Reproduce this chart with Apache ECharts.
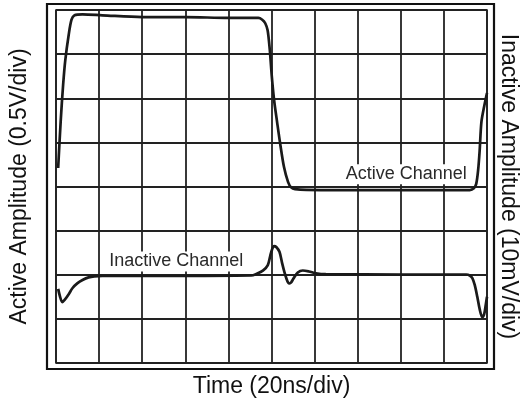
<!DOCTYPE html>
<html>
<head>
<meta charset="utf-8">
<script src="https://cdn.jsdelivr.net/npm/echarts@6/dist/echarts.min.js"></script>
<style>
html,body{margin:0;padding:0;background:#fff;}
#chart{width:528px;height:408px;}
</style>
</head>
<body>
<div id="chart"></div>
<script>
// Time axis: 20 ns/div, 10 divisions
const timeMin = 0, timeMax = 200, timeStep = 20;
// Active channel: 0.5 V/div (volts)
const activeMin = -2, activeMax = 2, activeStep = 0.5;
// Inactive channel: 10 mV/div (millivolts)
const inactiveMin = -20, inactiveMax = 60, inactiveStep = 10;

const activeTime = [1.0, 2.2, 3.3, 4.3, 5.9, 7.2, 8.6, 12.3, 21.5, 40.0, 60.2, 80.1, 93.9, 95.7, 97.1, 98.2, 99.2, 100.1, 101.2, 102.6, 104.0, 105.8, 107.7, 109.1, 110.9, 122.9, 150.0, 180.0, 192.0, 193.9, 195.0, 195.9, 196.6, 197.4, 198.7, 200.0];
const activeVolts = [0.21, 0.75, 1.15, 1.43, 1.72, 1.89, 1.94, 1.95, 1.94, 1.92, 1.92, 1.91, 1.91, 1.89, 1.85, 1.77, 1.55, 1.26, 0.98, 0.73, 0.49, 0.22, 0.05, -0.01, -0.03, -0.04, -0.04, -0.04, -0.04, -0.02, 0.03, 0.19, 0.41, 0.73, 0.91, 1.06];

const inactiveTime = [1.0, 1.9, 2.9, 4.0, 5.9, 7.7, 10.0, 12.3, 15.1, 17.8, 21.5, 50.0, 90.6, 92.9, 96.0, 98.3, 99.4, 100.3, 101.2, 102.2, 103.7, 104.9, 106.0, 107.0, 107.7, 108.4, 109.1, 110.2, 112.2, 114.5, 117.4, 120.6, 125.2, 160.0, 190.4, 192.0, 193.2, 194.3, 195.5, 196.6, 197.8, 198.7, 199.4, 200.0];
const inactiveMilliVolts = [-3.2, -5.0, -6.2, -5.7, -4.4, -3.0, -1.9, -1.2, -0.6, -0.35, -0.28, -0.28, -0.17, 0.17, 0.92, 2.2, 4.25, 5.8, 6.5, 6.3, 5.2, 2.7, 0.6, -0.96, -1.76, -1.98, -1.76, -0.85, 0.5, 0.96, 0.74, 0.33, 0.12, 0.06, 0.06, -0.17, -0.74, -2.3, -5.0, -7.8, -9.6, -8.9, -6.9, -5.0];

const activeLabel = {name: 'Active Channel', time: 162.5, value: 0.14};
const inactiveLabel = {name: 'Inactive Channel', time: 55.8, value: 3.0};

const FONT = '"Liberation Sans", Arial, Helvetica, sans-serif';
const chart = echarts.init(document.getElementById('chart'), null, {renderer: 'canvas'});

const traceStyle = {color: '#1a1a1a', width: 2.7};
const gridLine = {color: '#222', width: 1.8};
const labelStyle = {
  show: true, color: '#2a2a2a', fontFamily: FONT, fontSize: 18,
  backgroundColor: '#fff', padding: [1, 3], position: 'inside'
};

chart.setOption({
  animation: false,
  backgroundColor: '#fff',
  grid: {left: 53, right: 41, top: 10, bottom: 45, show: true, borderColor: '#222', borderWidth: 1.6, containLabel: false},
  xAxis: {
    type: 'value', min: timeMin, max: timeMax, interval: timeStep,
    name: 'Time (20ns/div)', nameLocation: 'middle', nameGap: 12,
    nameTextStyle: {fontFamily: FONT, fontSize: 23, color: '#111', verticalAlign: 'top'},
    axisLine: {show: false}, axisTick: {show: false}, axisLabel: {show: false},
    splitLine: {show: true, lineStyle: gridLine}
  },
  yAxis: [{
    type: 'value', min: activeMin, max: activeMax, interval: activeStep,
    name: 'Active Amplitude (0.5V/div)', nameLocation: 'middle', nameGap: 25,
    nameTextStyle: {fontFamily: FONT, fontSize: 23, color: '#111'},
    axisLine: {show: false}, axisTick: {show: false}, axisLabel: {show: false},
    splitLine: {show: true, lineStyle: gridLine}
  }, {
    type: 'value', min: inactiveMin, max: inactiveMax, interval: inactiveStep, position: 'right',
    name: 'Inactive Amplitude (10mV/div)', nameLocation: 'middle', nameGap: 10, nameRotate: -90,
    nameTextStyle: {fontFamily: FONT, fontSize: 23, color: '#111'},
    axisLine: {show: false}, axisTick: {show: false}, axisLabel: {show: false},
    splitLine: {show: false}
  }],
  graphic: [{
    type: 'rect', z: 100, silent: true,
    shape: {x: 47, y: 4, width: 447, height: 365},
    style: {fill: 'none', stroke: '#111', lineWidth: 2.2}
  }],
  series: [{
    type: 'line', yAxisIndex: 0, name: 'Active Channel',
    data: activeTime.map((t, i) => [t, activeVolts[i]]),
    showSymbol: false, smooth: 0.3, lineStyle: traceStyle, z: 5,
    markPoint: {
      symbol: 'rect', symbolSize: 0.001, silent: true,
      label: Object.assign({formatter: activeLabel.name}, labelStyle),
      data: [{coord: [activeLabel.time, activeLabel.value]}]
    }
  }, {
    type: 'line', yAxisIndex: 1, name: 'Inactive Channel',
    data: inactiveTime.map((t, i) => [t, inactiveMilliVolts[i]]),
    showSymbol: false, smooth: 0.3, lineStyle: traceStyle, z: 5,
    markPoint: {
      symbol: 'rect', symbolSize: 0.001, silent: true,
      label: Object.assign({formatter: inactiveLabel.name}, labelStyle),
      data: [{coord: [inactiveLabel.time, inactiveLabel.value]}]
    }
  }]
});
</script>
</body>
</html>
